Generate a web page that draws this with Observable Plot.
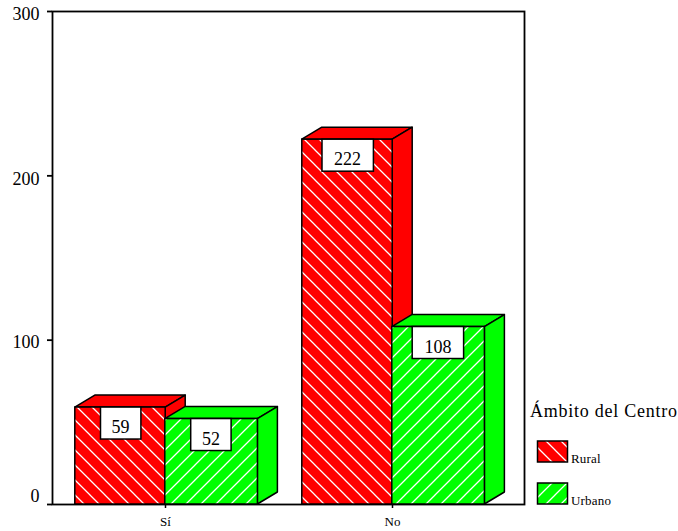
<!DOCTYPE html>
<html><head><meta charset="utf-8">
<script src="https://cdn.jsdelivr.net/npm/d3@7"></script>
<script src="https://cdn.jsdelivr.net/npm/@observablehq/plot@0.6"></script>
<style>html,body{margin:0;padding:0;background:#fff}svg{display:block}</style>
</head><body><div id="chart"></div>
<script>
const categories = ["Sí", "No"];
const seriesNames = ["Rural", "Urbano"];
const ruralValues = [59, 222];
const urbanoValues = [52, 108];
const yTicks = [0, 100, 200, 300];
const legendTitle = "Ámbito del Centro";
const colors = {Rural: "#ff0000", Urbano: "#00ff00"};

const serif = "'Liberation Serif','Times New Roman',serif";
const rural = categories.map((c, i) => ({cat: c, series: "Rural", v: ruralValues[i]}));
const urbano = categories.map((c, i) => ({cat: c, series: "Urbano", v: urbanoValues[i]}));
const all = [...rural, ...urbano];
const NS = "http://www.w3.org/2000/svg";
const DX = 20, DY = 12;

function patterns() {
  const g = document.createElementNS(NS, "g");
  g.innerHTML = `<defs>
  <pattern id="pRural" width="15" height="15" patternUnits="userSpaceOnUse">
    <rect width="15" height="15" fill="${colors.Rural}"/>
    <path d="M-2,-2 L17,17 M-2,13 L2,17 M13,-2 L17,2" stroke="#fff" stroke-width="1.3"/>
  </pattern>
  <pattern id="pUrbano" width="15" height="15" patternUnits="userSpaceOnUse">
    <rect width="15" height="15" fill="${colors.Urbano}"/>
    <path d="M-2,17 L17,-2 M-2,2 L2,-2 M13,17 L17,13" stroke="#fff" stroke-width="1.3"/>
  </pattern></defs>`;
  return g;
}

function depth(index, scales, values, dims, ctx, next) {
  const g = next(index, scales, values, dims, ctx);
  for (const r of Array.from(g.querySelectorAll("rect"))) {
    const x = +r.getAttribute("x"), y = +r.getAttribute("y"),
      w = +r.getAttribute("width"), h = +r.getAttribute("height");
    const fill = r.getAttribute("fill") || g.getAttribute("fill");
    const solid = fill.includes("Rural") ? colors.Rural : colors.Urbano;
    const faces = [
      `M${x},${y}L${x+DX},${y-DY}L${x+w+DX},${y-DY}L${x+w},${y}Z`,
      `M${x+w},${y}L${x+w+DX},${y-DY}L${x+w+DX},${y+h-DY}L${x+w},${y+h}Z`
    ];
    for (const d of faces) {
      const p = document.createElementNS(NS, "path");
      p.setAttribute("d", d);
      p.setAttribute("fill", solid);
      p.setAttribute("stroke", "#000");
      p.setAttribute("stroke-width", "1.5");
      p.setAttribute("stroke-linejoin", "round");
      g.insertBefore(p, r);
    }
  }
  return g;
}

function legend() {
  const g = document.createElementNS(NS, "g");
  g.setAttribute("font-family", serif);
  g.setAttribute("text-anchor", "start");
  g.setAttribute("fill", "#000");
  let html = `<text x="530" y="417" font-size="18" letter-spacing="0.75">${legendTitle}</text>`;
  seriesNames.forEach((n, i) => {
    const y = 441 + i * 42;
    html += `<rect x="537.5" y="${y}" width="30" height="21" fill="url(#p${n})" stroke="#000" stroke-width="1.5"/>`;
    html += `<text x="571" y="${y + 22}" font-size="13" letter-spacing="0.2">${n}</text>`;
  });
  g.innerHTML = html;
  return g;
}

const bar = (data, side) => Plot.barY(data, {
  x: "cat", y1: 0, y2: "v",
  fill: `url(#p${data[0].series})`,
  stroke: "#000", strokeWidth: 1.5,
  insetLeft: side === "r" ? 0.8 : 90.8,
  insetRight: side === "r" ? 90.8 : -1.4,
  render: depth
});

const boxMark = (d) => {
  const center = d.series === "Rural" ? 46.5 : 136.7;
  const w = String(d.v).length === 3 ? 51 : 40;
  const l = center - w / 2;
  return Plot.barY([d], {
    x: "cat", y1: "v", y2: "v",
    fill: "#fff", stroke: "#000", strokeWidth: 1.5,
    insetLeft: l, insetRight: 181.6 - l - w, insetBottom: -32
  });
};
const labelMark = (d) => Plot.text([d], {
  x: "cat", y: "v", text: "v", dy: 20,
  dx: d.series === "Rural" ? -45 : 45.5,
  fontSize: 18, fontFamily: serif, fill: "#000"
});
const yLabel = (t, dy) => Plot.text([t], {
  y: d => d, text: d => d, frameAnchor: "left", dx: -13, dy,
  textAnchor: "end", fontSize: 18, fontFamily: serif, fill: "#000"
});

const chart = Plot.plot({
  width: 678, height: 531,
  marginLeft: 52, marginRight: 154, marginTop: 11, marginBottom: 27,
  style: {background: "#fff", fontFamily: serif, color: "#000"},
  x: {domain: categories, range: [51.5, 505.5], paddingInner: 0.2, paddingOuter: 0.1, label: null},
  y: {domain: [0, 300], label: null},
  marks: [
    patterns,
    Plot.frame({stroke: "#000", strokeWidth: 1.8}),
    Plot.axisY({ticks: yTicks, tickSize: 5, tickFormat: () => "", label: null, strokeWidth: 1.8}),
    yLabel(yTicks[3], 3), yLabel(yTicks[2], 3), yLabel(yTicks[1], 2), yLabel(yTicks[0], -8),
    Plot.axisX({tickSize: 4, tickPadding: 8, label: null, fontSize: 13, fontFamily: serif, strokeWidth: 1.5, style: {letterSpacing: "2px"}}),
    bar(rural, "r"),
    bar(urbano, "u"),
    ...all.map(boxMark),
    ...all.map(labelMark),
    legend
  ]
});
document.getElementById("chart").append(chart);
</script></body></html>
